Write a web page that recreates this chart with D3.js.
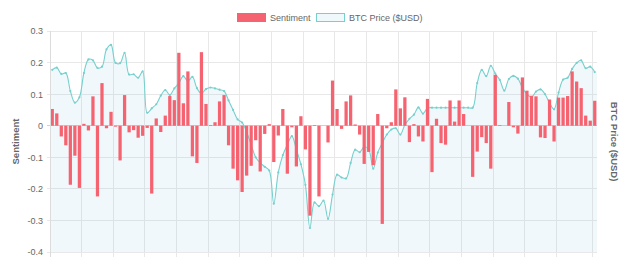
<!DOCTYPE html>
<html>
<head>
<meta charset="utf-8">
<script src="https://cdn.jsdelivr.net/npm/d3@7"></script>
<style>
  body { margin: 0; background: #fff; }
  svg { display: block; }
  text { font-family: "Liberation Sans", Arial, sans-serif; }
</style>
</head>
<body>
<svg class="sentiment-chart" width="640" height="272"></svg>
<script>
// daily sentiment score (bars, left axis)
const sentiment = [
  0.053, 0.039, -0.034, -0.062, -0.187, -0.095, -0.197, 0.006, -0.015, 0.093,
  -0.224, 0.135, -0.008, 0.044, -0.003, -0.11, 0.097, -0.021, -0.014, -0.038,
  -0.032, -0.007, -0.215, 0.023, -0.02, 0.032, 0.094, 0.081, 0.231, 0.071,
  0.172, -0.097, -0.118, 0.233, 0.069, 0.002, 0.011, 0.077, 0.097, -0.062,
  -0.136, -0.173, -0.21, -0.158, -0.127, -0.046, -0.145, -0.026, 0.005, -0.115,
  -0.031, 0.053, -0.152, -0.005, -0.129, 0.03, -0.075, -0.285, 0.002, -0.224,
  0, -0.053, 0.143, 0.053, -0.01, 0.077, 0.096, 0.004, -0.028, -0.121,
  -0.083, -0.125, 0.037, -0.311, -0.008, 0.011, 0.115, 0.055, 0.09, -0.052,
  0.005, -0.034, -0.05, 0.085, -0.147, 0.022, -0.055, -0.06, 0.08, 0.013,
  0.08, 0.037, 0, -0.162, -0.082, -0.036, -0.055, -0.136, 0.161, 0.002,
  0, 0.075, -0.005, -0.025, 0.153, 0.111, 0.095, 0.093, -0.037, -0.039,
  0.083, -0.05, 0.089, 0.089, 0.094, 0.172, 0.14, 0.119, 0.032, 0.016,
  0.079
];

// BTC price in USD (line, hidden right axis)
const btcPrice = [
  10770, 10840, 10640, 10670, 10100, 9730, 9900, 10670, 11100, 11070,
  10830, 10870, 11420, 11560, 10990, 10980, 11310, 10620, 10630, 10520,
  10720, 9410, 9550, 9680, 9950, 10130, 9970, 10180, 10350, 10570,
  10410, 10550, 10190, 10020, 10160, 10210, 10180, 10140, 10100, 9800,
  9500, 9200, 9100, 8800, 8400, 8000, 7820, 7700, 7580, 6530,
  7520, 8070, 8400, 8670, 8250, 7780, 7130, 5760, 6570, 6450,
  6630, 6050, 6820, 7450, 7360, 7330, 7820, 8240, 8160, 8330,
  8250, 7640, 8150, 8450, 8720, 8880, 8920, 8720, 9030, 9220,
  9350, 9580, 9380, 9560, 9570, 9570, 9570, 9570, 9570, 9570,
  9570, 9570, 9570, 9570, 10350, 10770, 10570, 10900, 10650, 10450,
  10110, 10480, 10580, 10490, 10200, 10000, 9900, 10080, 10150, 10000,
  9720, 9520, 10050, 10460, 10520, 10800, 10990, 11070, 10820, 10870,
  10700
];

const days = d3.range(sentiment.length);
const sentimentTicks = [-0.4, -0.3, -0.2, -0.1, 0, 0.1, 0.2, 0.3];
const priceDomain = [5000, 12000];
const dayTicks = [0, 7, 14, 21, 28, 35, 42, 49, 56, 63, 70, 77, 84, 91, 98, 105, 112, 120];

const barColor = "rgb(245,99,113)";
const lineColor = "rgb(118,208,205)";
const fillColor = "rgba(120,190,215,0.1)";
const gridColor = "#e8e8e8";
const textColor = "#666";

sentimentChart();

function sentimentChart(margin = { top: 31, right: 43, bottom: 20, left: 50 }) {
  const svg = d3.select(".sentiment-chart");
  const width = +svg.attr("width");
  const height = +svg.attr("height");

  const x = d3
    .scaleBand()
    .domain(days)
    .range([margin.left, width - margin.right]);

  const y = d3
    .scaleLinear()
    .domain([-0.4, 0.3])
    .range([height - margin.bottom, margin.top]);

  const yPrice = d3
    .scaleLinear()
    .domain(priceDomain)
    .range([height - margin.bottom, margin.top]);

  const cx = (i) => x(i) + x.bandwidth() / 2;

  // Grid
  const grid = svg.append("g").attr("class", "grid");

  sentimentTicks.forEach((t) => {
    grid
      .append("line")
      .attr("x1", margin.left - 3)
      .attr("x2", width - margin.right)
      .attr("y1", y(t))
      .attr("y2", y(t))
      .attr("stroke", t === 0 ? "#d0d0d0" : gridColor)
      .attr("stroke-width", 1)
      .attr("shape-rendering", "crispEdges");
  });

  dayTicks.forEach((d) => {
    grid
      .append("line")
      .attr("x1", x(d))
      .attr("x2", x(d))
      .attr("y1", margin.top)
      .attr("y2", height - margin.bottom + 5)
      .attr("stroke", gridColor)
      .attr("shape-rendering", "crispEdges");
  });

  // Area under price
  const area = d3
    .area()
    .x((d, i) => cx(i))
    .y0(height - margin.bottom)
    .y1((d) => yPrice(d))
    .curve(d3.curveCatmullRom);

  svg
    .append("path")
    .datum(btcPrice)
    .attr("fill", fillColor)
    .attr("d", area);

  // fill left/right of first/last point so the tint reaches the plot edges
  svg
    .append("rect")
    .attr("x", margin.left)
    .attr("y", yPrice(btcPrice[0]))
    .attr("width", cx(0) - margin.left)
    .attr("height", height - margin.bottom - yPrice(btcPrice[0]))
    .attr("fill", fillColor);

  const last = btcPrice.length - 1;
  svg
    .append("rect")
    .attr("x", cx(last))
    .attr("y", yPrice(btcPrice[last]))
    .attr("width", width - margin.right - cx(last))
    .attr("height", height - margin.bottom - yPrice(btcPrice[last]))
    .attr("fill", fillColor);

  // Price line
  const line = d3
    .line()
    .x((d, i) => cx(i))
    .y((d) => yPrice(d))
    .curve(d3.curveCatmullRom);

  svg
    .append("path")
    .datum(btcPrice)
    .attr("fill", "none")
    .attr("stroke", lineColor)
    .attr("stroke-width", 1.1)
    .attr("d", line);

  svg
    .append("g")
    .selectAll("circle")
    .data(btcPrice)
    .join("circle")
    .attr("cx", (d, i) => cx(i))
    .attr("cy", (d) => yPrice(d))
    .attr("r", 1.1)
    .attr("fill", lineColor);

  // Sentiment bars
  const barW = x.bandwidth() * 0.72;
  svg
    .append("g")
    .selectAll("rect")
    .data(sentiment)
    .join("rect")
    .attr("x", (d, i) => cx(i) - barW / 2)
    .attr("y", (d) => Math.min(y(d), y(0)))
    .attr("width", barW)
    .attr("height", (d) => Math.abs(y(d) - y(0)))
    .attr("fill", barColor);

  // Left axis line
  svg
    .append("line")
    .attr("x1", margin.left)
    .attr("x2", margin.left)
    .attr("y1", margin.top)
    .attr("y2", height - margin.bottom + 5)
    .attr("stroke", "#dcdcdc")
    .attr("shape-rendering", "crispEdges");

  // Y axis labels
  svg
    .append("g")
    .attr("transform", `translate(${margin.left},0)`)
    .call(
      d3
        .axisLeft(y)
        .tickValues(sentimentTicks)
        .tickSize(0)
        .tickPadding(7)
        .tickFormat((d) => (d === 0 ? "0" : d.toFixed(1)))
    )
    .call((g) => g.select(".domain").remove())
    .call((g) =>
      g
        .selectAll("text")
        .attr("fill", textColor)
        .attr("font-size", "9px")
        .attr("font-family", '"Liberation Sans", Arial, sans-serif')
    );

  const midY = (margin.top + height - margin.bottom) / 2;

  svg
    .append("text")
    .attr("transform", `translate(19,${midY}) rotate(-90)`)
    .attr("text-anchor", "middle")
    .attr("font-size", "9.5px")
    .attr("font-weight", "700")
    .attr("fill", textColor)
    .text("Sentiment");

  svg
    .append("text")
    .attr("transform", `translate(611,${midY}) rotate(90)`)
    .attr("text-anchor", "middle")
    .attr("font-size", "9.5px")
    .attr("font-weight", "700")
    .attr("fill", textColor)
    .text("BTC Price ($USD)");

  // Legend
  const legend = svg.append("g").attr("class", "legend");

  legend
    .append("rect")
    .attr("x", 237)
    .attr("y", 13)
    .attr("width", 29)
    .attr("height", 9)
    .attr("fill", barColor);

  legend
    .append("text")
    .attr("x", 270)
    .attr("y", 21)
    .attr("font-size", "9px")
    .attr("fill", textColor)
    .text("Sentiment");

  legend
    .append("rect")
    .attr("x", 316.5)
    .attr("y", 13.5)
    .attr("width", 28)
    .attr("height", 8)
    .attr("fill", "rgba(120,200,210,0.12)")
    .attr("stroke", lineColor)
    .attr("stroke-width", 1);

  legend
    .append("text")
    .attr("x", 349)
    .attr("y", 21)
    .attr("font-size", "9px")
    .attr("fill", textColor)
    .text("BTC Price ($USD)");
}
</script>
</body>
</html>
